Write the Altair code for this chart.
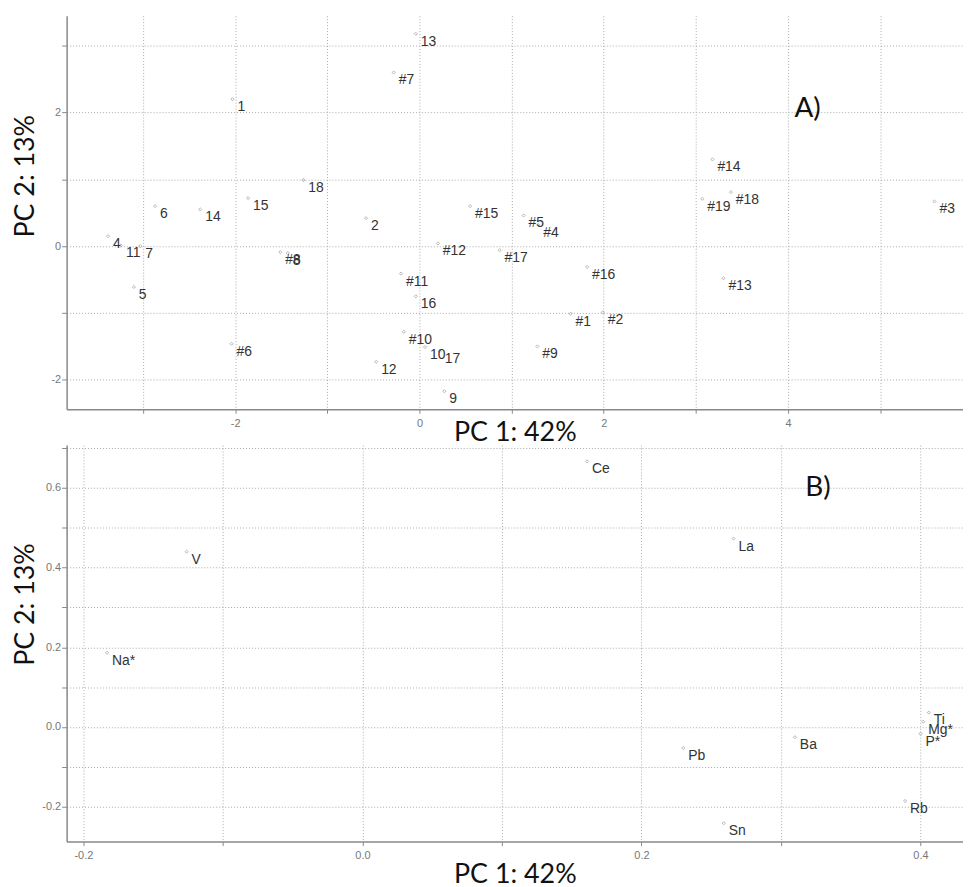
import altair as alt
import pandas as pd

# ---------------- data ----------------
top_labels = ["1", "18", "15", "14", "6", "4", "11", "7", "5", "#8", "8", "2", "#6",
              "13", "#7", "#15", "#5", "#4", "#12", "#17", "#16", "#11", "16", "#1",
              "#2", "#10", "10", "17", "#9", "12", "9", "#14", "#19", "#18", "#3", "#13"]
top_pc1 = [-2.03, -1.26, -1.86, -2.38, -2.87, -3.38, -3.24, -3.03, -3.10, -1.51, -1.43, -0.58, -2.04,
           -0.04, -0.28, 0.55, 1.13, 1.29, 0.20, 0.87, 1.82, -0.20, -0.04, 1.64,
           1.99, -0.17, 0.06, 0.22, 1.28, -0.47, 0.27, 3.18, 3.07, 3.38, 5.59, 3.30]
top_pc2 = [2.20, 0.99, 0.72, 0.55, 0.60, 0.15, 0.01, 0.00, -0.61, -0.09, -0.10, 0.42, -1.46,
           3.18, 2.60, 0.60, 0.46, 0.32, 0.04, -0.06, -0.31, -0.41, -0.75, -1.01,
           -0.99, -1.28, -1.51, -1.57, -1.50, -1.73, -2.17, 1.30, 0.71, 0.81, 0.67, -0.48]

bot_labels = ["V", "Na*", "Ce", "La", "Pb", "Ba", "Sn", "Rb", "Ti", "Mg*", "P*"]
bot_pc1 = [-0.126, -0.183, 0.161, 0.266, 0.230, 0.310, 0.259, 0.389, 0.406, 0.402, 0.400]
bot_pc2 = [0.440, 0.186, 0.667, 0.473, -0.053, -0.026, -0.242, -0.186, 0.036, 0.013, -0.017]

tag_text = ["A)", "B)"]
tag_pc1 = [4.07, 0.3175]
tag_pc2 = [2.05, 0.601]

x_title = "PC 1: 42%"
y_title = "PC 2: 13%"

top_x_ticks = [-3, -2, -1, 0, 1, 2, 3, 4, 5]
top_y_ticks = [-2, -1, 0, 1, 2, 3]
bot_x_ticks = [-0.2, -0.1, 0.0, 0.1, 0.2, 0.3, 0.4]
bot_y_ticks = [-0.2, -0.1, 0.0, 0.1, 0.2, 0.3, 0.4, 0.5, 0.6, 0.7]

top_x_domain = [-3.83, 5.90]
top_y_domain = [-2.44, 3.45]
bot_x_domain = [-0.212, 0.4305]
bot_y_domain = [-0.288, 0.708]

top_df = pd.DataFrame({"label": top_labels, "pc1": top_pc1, "pc2": top_pc2})
bot_df = pd.DataFrame({"label": bot_labels, "pc1": bot_pc1, "pc2": bot_pc2})
top_tag = pd.DataFrame({"label": [tag_text[0]], "pc1": [tag_pc1[0]], "pc2": [tag_pc2[0]]})
bot_tag = pd.DataFrame({"label": [tag_text[1]], "pc1": [tag_pc1[1]], "pc2": [tag_pc2[1]]})

INT_EXPR = ("datum.value % 2 == 0 ? (datum.value < 0 ? '-' + format(-datum.value, 'd') "
            ": format(datum.value, 'd')) : ''")
DEC_EXPR = ("abs(round(datum.value * 10)) % 2 == 0 ? (datum.value < 0 ? '-' + "
            "format(-datum.value, '.1f') : format(datum.value, '.1f')) : ''")


def panel(df, tag, xdom, ydom, xt, yt, expr, w, h, x_title_y, y_title_y):
    x_enc = alt.X("pc1:Q",
                  scale=alt.Scale(domain=xdom, nice=False, zero=False),
                  axis=alt.Axis(values=xt, labelExpr=expr, title=x_title,
                                titleY=x_title_y, titleBaseline="alphabetic"))
    y_enc = alt.Y("pc2:Q",
                  scale=alt.Scale(domain=ydom, nice=False, zero=False),
                  axis=alt.Axis(values=yt, labelExpr=expr, title=y_title,
                                titleY=y_title_y, titleBaseline="alphabetic"))
    base = alt.Chart(df)
    pts = base.mark_point(shape="diamond", size=10, filled=False, color="#999999",
                          strokeWidth=1).encode(x=x_enc, y=y_enc)
    lbl = base.mark_text(align="left", baseline="middle", dx=5, dy=8, fontSize=14,
                         font="Liberation Sans", color="#333333").encode(
        x=x_enc, y=y_enc, text="label:N")
    tg = alt.Chart(tag).mark_text(align="left", baseline="middle", fontSize=28,
                                  font="Lato", color="#111111").encode(
        x=x_enc, y=y_enc, text="label:N")
    return alt.layer(pts, lbl, tg).properties(width=w, height=h)


top = panel(top_df, top_tag, top_x_domain, top_y_domain, top_x_ticks, top_y_ticks,
            INT_EXPR, 902, 396, 31, 161)
bottom = panel(bot_df, bot_tag, bot_x_domain, bot_y_domain, bot_x_ticks, bot_y_ticks,
               DEC_EXPR, 902, 399, 41, 160)

chart = alt.vconcat(top, bottom, spacing=0).properties(
    padding={"left": 4, "top": 5, "right": 0, "bottom": 0}
).configure_view(stroke=None).configure_axis(
    grid=True, gridColor="#aaaaaa", gridDash=[1, 2], gridWidth=1,
    domainColor="#888888", domainWidth=1.5,
    tickColor="#888888", tickWidth=1,
    labelColor="#777777", labelFont="Liberation Sans", labelFontSize=11,
    titleFont="Lato", titleFontSize=27, titleFontWeight="normal", titleColor="#111111",
).configure_axisX(
    tickSize=4, labelPadding=4
).configure_axisY(
    tickSize=5, labelPadding=1, minExtent=20, maxExtent=20, titlePadding=13
)

chart.save("out.html", embed_options={"renderer": "svg", "actions": False})
